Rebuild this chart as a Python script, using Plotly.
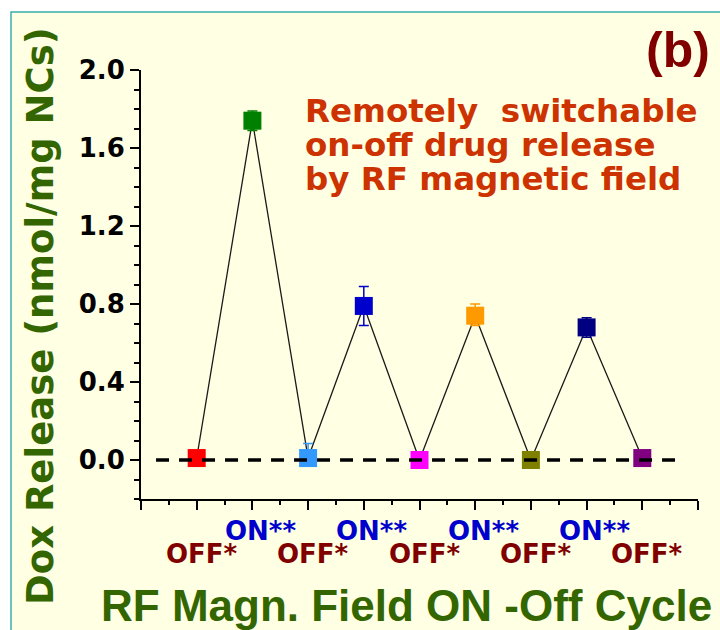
import plotly.graph_objects as go

# ---------------- data ----------------
cycle_pos = [1, 2, 3, 4, 5, 6, 7, 8, 9]
cycle_state = ["OFF*", "ON**", "OFF*", "ON**", "OFF*", "ON**", "OFF*", "ON**", "OFF*"]
dox_release = [0.01, 1.74, 0.01, 0.79, 0.00, 0.74, 0.00, 0.68, 0.01]
err_plus = [0.0, 0.05, 0.075, 0.10, 0.0, 0.06, 0.0, 0.05, 0.0]
err_minus = [0.0, 0.05, 0.0, 0.10, 0.0, 0.05, 0.0, 0.05, 0.0]
point_colors = ["#FF0000", "#008000", "#3399FF", "#0000CC", "#FF00FF",
                "#FF9900", "#808000", "#000080", "#800080"]
baseline_x = [0.27, 9.70]
baseline_y = [0.0, 0.0]
y_range = [-0.2, 2.0]
x_range = [0, 10]

# ---------------- layout geometry ----------------
W, H = 720, 630
PLOT_X0, PLOT_X1, PLOT_Y0, PLOT_Y1 = 141, 698, 70, 499   # page pixels
L, T = PLOT_X0, PLOT_Y0
R, B = W - PLOT_X1, H - PLOT_Y1
PW, PH = PLOT_X1 - PLOT_X0, PLOT_Y1 - PLOT_Y0


def px(x):
    return (x - PLOT_X0) / PW


def py(y):
    return (PLOT_Y1 - y) / PH


CREAM = "#FFFFE4"
TEAL = "#3AAFA9"
GREEN = "#336600"
ORANGE = "#CC3300"
MAROON = "#800000"
BLUE = "#0000CC"
BOLD_WIDE = "DejaVu Sans"
BOLD_ARIAL = "Liberation Sans, Arial"

fig = go.Figure()

# connecting line
fig.add_trace(go.Scatter(x=cycle_pos, y=dox_release, mode="lines",
                         line=dict(color="#1a1a1a", width=1.3),
                         hoverinfo="skip", showlegend=False))

# markers with error bars
for xv, yv, ep, em, c in zip(cycle_pos, dox_release, err_plus, err_minus, point_colors):
    fig.add_trace(go.Scatter(
        x=[xv], y=[yv], mode="markers",
        marker=dict(symbol="square", size=18, color=c, line=dict(width=0)),
        error_y=dict(type="data", symmetric=False, array=[ep], arrayminus=[em],
                     color=c, thickness=1.5, width=5, visible=(ep > 0 or em > 0)),
        showlegend=False))

# dashed zero line
fig.add_trace(go.Scatter(x=baseline_x, y=baseline_y, mode="lines",
                         line=dict(color="black", width=3.5, dash="13px,10px"),
                         hoverinfo="skip", showlegend=False))

annotations = []
# ON/OFF labels
for xv, lab in zip(cycle_pos, cycle_state):
    is_on = lab.startswith("ON")
    annotations.append(dict(
        x=xv, xref="x", y=py(531 if is_on else 554), yref="paper",
        text="<b>%s</b>" % lab, showarrow=False,
        xanchor="center", yanchor="middle", xshift=8 if is_on else 5,
        font=dict(family=BOLD_WIDE, size=26, color=BLUE if is_on else MAROON)))

# texts
annotations += [
    dict(x=px(406), y=py(605), xref="paper", yref="paper",
         text="<b>RF Magn. Field ON -Off Cycle</b>", showarrow=False,
         xanchor="center", yanchor="middle",
         font=dict(family=BOLD_ARIAL, size=44, color=GREEN)),
    dict(x=px(40), y=py(316), xref="paper", yref="paper",
         text="<b>Dox Release (nmol/mg NCs)</b>", showarrow=False, textangle=-90,
         xanchor="center", yanchor="middle",
         font=dict(family=BOLD_WIDE, size=37, color=GREEN)),
    dict(x=px(678), y=py(50), xref="paper", yref="paper",
         text="<b>(b)</b>", showarrow=False, xanchor="center", yanchor="middle",
         font=dict(family=BOLD_ARIAL, size=50, color=MAROON)),
]
for line_txt, yc in zip(["Remotely  switchable", "on-off drug release", "by RF magnetic field"],
                        [111, 145, 179]):
    annotations.append(dict(x=px(303), y=py(yc), xref="paper", yref="paper",
                            text="<b>%s</b>" % line_txt, showarrow=False,
                            xanchor="left", yanchor="middle",
                            font=dict(family=BOLD_WIDE, size=32.5, color=ORANGE)))

shapes = [
    dict(type="rect", xref="paper", yref="paper", layer="below",
         x0=px(11), x1=px(760), y0=py(12), y1=py(700),
         fillcolor=CREAM, line=dict(color=TEAL, width=1.5)),
]

fig.update_layout(
    width=W, height=H, autosize=False,
    margin=dict(l=L, r=R, t=T, b=B, pad=0),
    paper_bgcolor="white", plot_bgcolor="rgba(0,0,0,0)",
    showlegend=False,
    annotations=annotations, shapes=shapes,
    xaxis=dict(range=x_range, showgrid=False, zeroline=False,
               showline=True, linecolor="black", linewidth=2,
               ticks="outside", dtick=1, tick0=0, ticklen=9, tickwidth=1.5,
               tickcolor="black", showticklabels=False,
               minor=dict(dtick=0.5, tick0=0, ticks="outside", ticklen=4,
                          tickwidth=1.5, tickcolor="black", showgrid=False)),
    yaxis=dict(range=y_range, showgrid=False, zeroline=False,
               showline=True, linecolor="black", linewidth=2,
               ticks="outside", dtick=0.4, tick0=0, ticklen=9, tickwidth=1.5,
               tickcolor="black", tickformat=".1f",
               tickfont=dict(family=BOLD_WIDE, size=26, color="black", weight="bold"),
               minor=dict(dtick=0.1, tick0=0, ticks="outside", ticklen=5,
                          tickwidth=1.5, tickcolor="black", showgrid=False)),
)

fig.write_html(
    "out.html",
    config={"displayModeBar": False},
    post_script="document.body.style.margin='0';document.body.style.overflow='hidden';",
)
